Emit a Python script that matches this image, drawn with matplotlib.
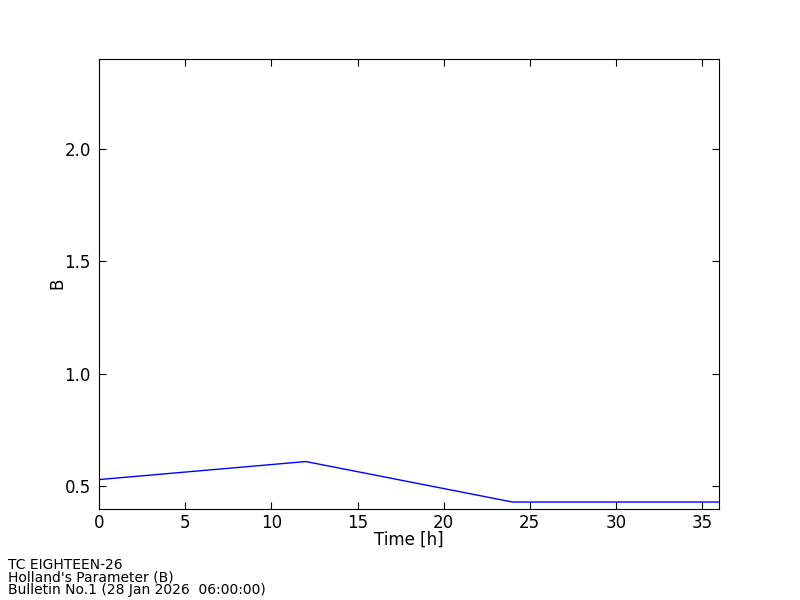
import matplotlib
matplotlib.use("Agg")
import matplotlib.pyplot as plt

# forecast times and Holland B values
time_h = [0, 12, 24, 36]
holland_b = [0.53, 0.61, 0.43, 0.43]

footer = ["TC EIGHTEEN-26",
          "Holland's Parameter (B)",
          "Bulletin No.1 (28 Jan 2026  06:00:00)"]

fig = plt.figure(figsize=(8, 6), dpi=100)
ax = fig.add_axes([0.124, 0.152, 0.775, 0.75])
ax.plot(time_h, holland_b, color="blue", linewidth=1)

ax.set_xlim(0, 36)
ax.set_ylim(0.4, 2.4)
ax.set_yticks([0.5, 1.0, 1.5, 2.0])
ax.set_xticks([0, 5, 10, 15, 20, 25, 30, 35])
ax.tick_params(axis="x", pad=4)
ax.tick_params(axis="y", pad=6)
ax.tick_params(direction="in", length=5, labelsize=12, top=True, right=True)
ax.set_xlabel("Time [h]", fontsize=12, labelpad=-1)
ax.set_ylabel("B", fontsize=12, labelpad=-1)

fig.text(0.01, 0.005, "\n".join(footer), fontsize=10, va="bottom",
         linespacing=0.86)

fig.savefig("out.png", dpi=100)
